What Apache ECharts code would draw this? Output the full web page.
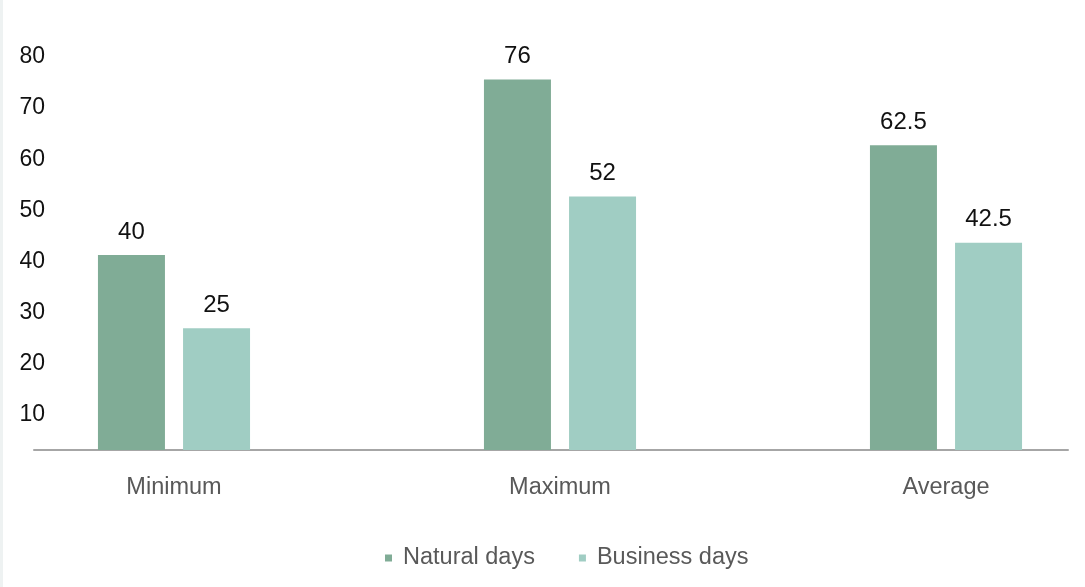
<!DOCTYPE html>
<html>
<head>
<meta charset="utf-8">
<script src="https://cdn.jsdelivr.net/npm/echarts@6/dist/echarts.min.js"></script>
<style>
  html, body { margin: 0; padding: 0; background: #fff; }
  #chart { width: 1085px; height: 587px; }
</style>
</head>
<body>
<div id="chart"></div>
<script>
// data
var categories = ['Minimum', 'Maximum', 'Average'];
var naturalDays = [40, 76, 62.5];
var businessDays = [25, 52, 42.5];
var seriesNames = ['Natural days', 'Business days'];

var green = '#80ac96';
var teal = '#a0cdc3';
var font = 'Liberation Sans, Arial, sans-serif';

var myChart = echarts.init(document.getElementById('chart'));

var labelStyle = {
    show: true,
    position: 'top',
    distance: 11,
    color: '#111',
    fontSize: 24,
    fontFamily: font
};

var option = {
    backgroundColor: '#fff',
    animation: false,
    graphic: [{
        type: 'rect',
        left: 0, top: 0,
        shape: { width: 3, height: 587 },
        style: { fill: '#eef2f2' }
    }],
    legend: {
        data: seriesNames,
        top: 541,
        left: 380,
        icon: 'rect',
        itemWidth: 7,
        itemHeight: 7,
        itemGap: 44,
        textStyle: {
            color: '#595959',
            fontSize: 23.5,
            fontFamily: font,
            padding: [0, 0, 0, 6]
        }
    },
    grid: [
        // bars (wider than the canvas so the category centres line up)
        { left: -19, width: 1158, top: 60, bottom: 137, outerBoundsMode: 'none' },
        // y labels only
        { left: 50, right: 17, top: 57, bottom: 121 },
        // x axis line only
        { left: 34, right: 17, top: 60, bottom: 137 }
    ],
    xAxis: [{
        gridIndex: 0,
        type: 'category',
        data: categories,
        axisLine: { show: false },
        axisTick: { show: false },
        axisLabel: {
            margin: 26,
            color: '#595959',
            fontSize: 23.5,
            fontFamily: font
        }
    }, {
        gridIndex: 1,
        type: 'value',
        show: false
    }, {
        gridIndex: 2,
        type: 'value',
        axisLine: { show: true, lineStyle: { color: '#a6a6a6', width: 2 } },
        axisTick: { show: false },
        axisLabel: { show: false },
        splitLine: { show: false }
    }],
    yAxis: [{
        gridIndex: 0,
        type: 'value',
        min: 0,
        max: 80,
        show: false
    }, {
        gridIndex: 1,
        type: 'value',
        min: 0,
        max: 80,
        interval: 10,
        axisLine: { show: false },
        axisTick: { show: false },
        splitLine: { show: false },
        axisLabel: {
            margin: 5,
            color: '#111',
            fontSize: 23,
            fontFamily: font,
            formatter: function (v) { return v === 0 ? '' : v; }
        }
    }, {
        gridIndex: 2,
        type: 'value',
        show: false
    }],
    series: [{
        name: seriesNames[0],
        type: 'bar',
        xAxisIndex: 0,
        yAxisIndex: 0,
        data: naturalDays,
        barWidth: 67,
        barGap: '27%',
        itemStyle: { color: green },
        label: labelStyle
    }, {
        name: seriesNames[1],
        type: 'bar',
        xAxisIndex: 0,
        yAxisIndex: 0,
        data: businessDays,
        barWidth: 67,
        barGap: '27%',
        itemStyle: { color: teal },
        label: labelStyle
    }]
};

myChart.setOption(option);
</script>
</body>
</html>
